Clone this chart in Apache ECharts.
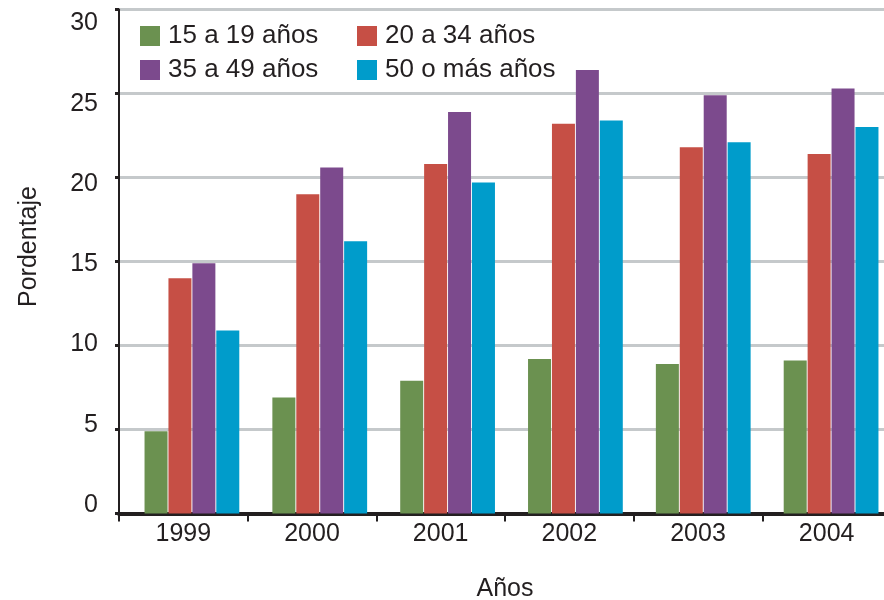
<!DOCTYPE html>
<html>
<head>
<meta charset="utf-8">
<script src="https://cdn.jsdelivr.net/npm/echarts@6/dist/echarts.min.js"></script>
<style>
  html, body { margin: 0; padding: 0; background: #ffffff; }
  #chart { width: 884px; height: 600px; }
</style>
</head>
<body>
<div id="chart"></div>
<script>
// Porcentaje por grupo de edad y año
const years = ['1999', '2000', '2001', '2002', '2003', '2004'];
const seriesNames = ['15 a 19 años', '20 a 34 años', '35 a 49 años', '50 o más años'];
const edad15a19 = [4.9, 6.9, 7.9, 9.2, 8.9, 9.1];
const edad20a34 = [14.0, 19.0, 20.8, 23.2, 21.8, 21.4];
const edad35a49 = [14.9, 20.6, 23.9, 26.4, 24.9, 25.3];
const edad50mas = [10.9, 16.2, 19.7, 23.4, 22.1, 23.0];
const yTicks = { min: 0, max: 30, interval: 5 };

const colors = ['#6b9150', '#c64f45', '#7c4a8d', '#009ccb'];
const ink = '#231f20';
const font = 'Liberation Sans, Arial, Helvetica, sans-serif';

const chart = echarts.init(document.getElementById('chart'), null, { renderer: 'canvas' });

const values = [edad15a19, edad20a34, edad35a49, edad50mas];

const legendBase = {
  orient: 'vertical', top: 23, padding: 0,
  itemWidth: 20, itemHeight: 20, itemGap: 8,
  icon: 'rect',
  textStyle: { fontSize: 26, color: ink, fontFamily: font, padding: [0, 0, 0, 3] }
};

const gridBase = { outerBoundsMode: 'none', containLabel: false };

chart.setOption({
  animation: false,
  backgroundColor: '#ffffff',
  textStyle: { fontFamily: font, color: ink },
  grid: [
    // axes, ticks and gridlines
    Object.assign({ left: 119, top: 9.5, width: 772, height: 504 }, gridBase),
    // bars
    Object.assign({ left: 128, top: 9.5, width: 767, height: 504 }, gridBase),
    // value labels of the vertical axis
    Object.assign({ left: 119, top: 23.5, width: 772, height: 481.5 }, gridBase)
  ],
  legend: [
    Object.assign({}, legendBase, { data: [seriesNames[0], seriesNames[2]], left: 140 }),
    Object.assign({}, legendBase, { data: [seriesNames[1], seriesNames[3]], left: 357 })
  ],
  xAxis: [
    {
      gridIndex: 0, type: 'category', data: years,
      name: 'Años', nameLocation: 'middle', nameGap: 63,
      nameTextStyle: { fontSize: 25, color: ink, fontFamily: font },
      axisLine: { show: true, onZero: false, lineStyle: { color: ink, width: 4 } },
      axisTick: { show: true, length: 8, lineStyle: { color: ink, width: 2 } },
      axisLabel: { fontSize: 25, color: ink, fontFamily: font, margin: 8 },
      splitLine: { show: false }
    },
    { gridIndex: 1, type: 'category', data: years, show: false },
    { gridIndex: 2, type: 'category', data: years, show: false }
  ],
  yAxis: [
    {
      gridIndex: 0, type: 'value', min: yTicks.min, max: yTicks.max, interval: yTicks.interval,
      name: 'Pordentaje', nameLocation: 'middle', nameGap: 77, nameRotate: 90,
      nameTextStyle: { fontSize: 25, color: ink, fontFamily: font, padding: [0, 0, 0, 30] },
      axisLine: { show: true, lineStyle: { color: ink, width: 2 } },
      axisTick: { show: true, length: 4, lineStyle: { color: ink, width: 3 } },
      axisLabel: { show: false },
      splitLine: { show: true, lineStyle: { color: '#c5c9cb', width: 3 } }
    },
    {
      gridIndex: 1, type: 'value', min: yTicks.min, max: yTicks.max, interval: yTicks.interval, show: false
    },
    {
      gridIndex: 2, type: 'value', min: yTicks.min, max: yTicks.max, interval: yTicks.interval,
      axisLine: { show: false },
      axisTick: { show: false },
      splitLine: { show: false },
      axisLabel: { fontSize: 25, color: ink, fontFamily: font, margin: 21 }
    }
  ],
  series: seriesNames.map((name, i) => ({
    name: name,
    type: 'bar',
    xAxisIndex: 1,
    yAxisIndex: 1,
    data: values[i],
    barWidth: 23,
    barGap: '4%',
    itemStyle: { color: colors[i] },
    z: 1
  }))
});
</script>
</body>
</html>
